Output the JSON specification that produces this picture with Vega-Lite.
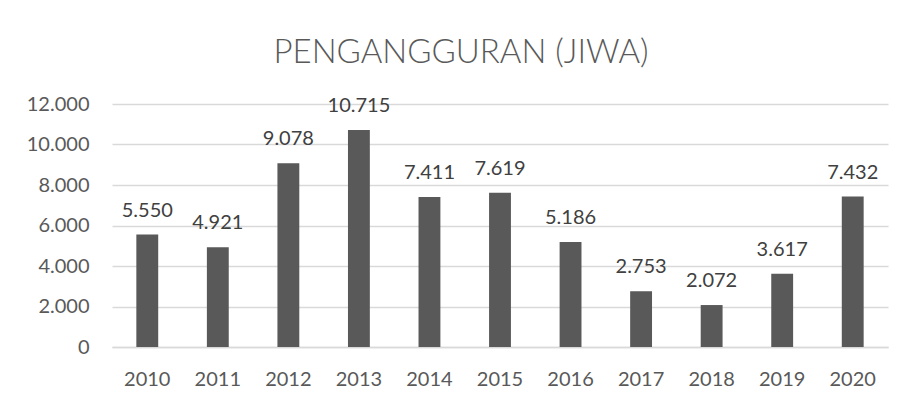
{
  "$schema": "https://vega.github.io/schema/vega-lite/v6.json",
  "width": 776,
  "height": 243,
  "autosize": {"type": "none"},
  "padding": {"left": 112, "top": 104, "right": 25, "bottom": 59},
  "background": "white",
  "config": {
    "locale": {"number": {"decimal": ",", "thousands": ".", "grouping": [3], "currency": ["Rp", ""]}},
    "font": "Lato",
    "view": {"stroke": null}
  },
  "title": {
    "text": "PENGANGGURAN (JIWA)",
    "font": "Lato",
    "fontSize": 33,
    "fontWeight": 300,
    "color": "#595959",
    "anchor": "middle",
    "dx": -39,
    "offset": 24
  },
  "data": {
    "values": [
      {"tahun": "2010", "jiwa": 5550},
      {"tahun": "2011", "jiwa": 4921},
      {"tahun": "2012", "jiwa": 9078},
      {"tahun": "2013", "jiwa": 10715},
      {"tahun": "2014", "jiwa": 7411},
      {"tahun": "2015", "jiwa": 7619},
      {"tahun": "2016", "jiwa": 5186},
      {"tahun": "2017", "jiwa": 2753},
      {"tahun": "2018", "jiwa": 2072},
      {"tahun": "2019", "jiwa": 3617},
      {"tahun": "2020", "jiwa": 7432}
    ]
  },
  "encoding": {
    "x": {
      "field": "tahun",
      "type": "nominal",
      "sort": null,
      "scale": {"paddingInner": 0.69, "paddingOuter": 0.345},
      "axis": {
        "title": null,
        "labelAngle": 0,
        "labelFont": "Lato",
        "labelFontSize": 20,
        "labelColor": "#595959",
        "labelPadding": 22,
        "ticks": false,
        "domainColor": "#d9d9d9",
        "domainWidth": 1.5
      }
    },
    "y": {
      "field": "jiwa",
      "type": "quantitative",
      "scale": {"domain": [0, 12000], "nice": false},
      "axis": {
        "title": null,
        "values": [0, 2000, 4000, 6000, 8000, 10000, 12000],
        "format": ",d",
        "labelFont": "Lato",
        "labelFontSize": 20,
        "labelColor": "#595959",
        "labelPadding": 23,
        "ticks": false,
        "domain": false,
        "gridColor": "#d9d9d9",
        "gridWidth": 1.5
      }
    }
  },
  "layer": [
    {"mark": {"type": "bar", "color": "#595959"}},
    {
      "mark": {"type": "text", "baseline": "alphabetic", "dy": -18, "font": "Lato", "fontSize": 20, "color": "#404040"},
      "encoding": {"text": {"field": "jiwa", "type": "quantitative", "format": ",d"}}
    }
  ]
}
